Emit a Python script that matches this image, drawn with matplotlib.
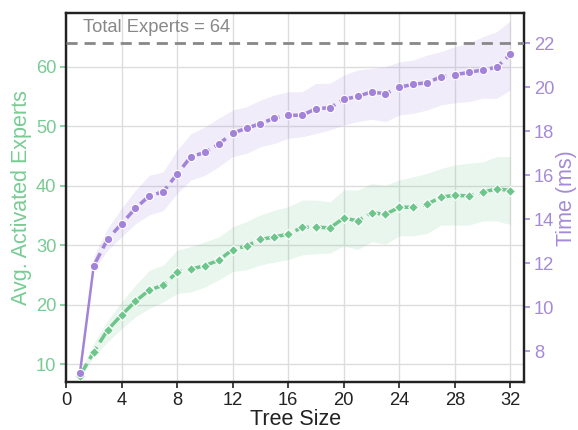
import matplotlib
matplotlib.use("Agg")
import matplotlib.pyplot as plt
import matplotlib.transforms as mtransforms
import numpy as np

plt.rcParams['font.family'] = ['Liberation Sans', 'DejaVu Sans']

# ---- data ----
tree_size = list(range(1, 33))

experts_mean = [8.1, 12.1, 15.8, 18.3, 20.6, 22.5, 23.3, 25.5, 26.0, 26.6,
                27.5, 29.3, 29.9, 31.0, 31.4, 31.9, 33.0, 33.1, 32.9, 34.6,
                34.1, 35.5, 35.2, 36.4, 36.4, 36.9, 38.1, 38.4, 38.3, 38.9,
                39.5, 39.2]
experts_low = [7.7, 11.3, 13.8, 16.0, 18.0, 19.4, 20.5, 21.9, 22.2, 23.0,
               24.2, 25.6, 25.9, 26.7, 27.2, 27.6, 28.4, 28.6, 28.7, 29.9,
               29.3, 30.6, 30.2, 31.6, 31.6, 32.0, 33.4, 33.4, 33.4, 34.1,
               34.1, 33.5]
experts_high = [8.5, 13.5, 17.4, 20.5, 23.3, 25.8, 26.7, 29.2, 29.8, 30.6,
                31.4, 33.1, 34.0, 35.1, 35.9, 36.5, 37.6, 37.6, 37.3, 39.3,
                39.3, 40.4, 40.1, 41.0, 41.5, 42.1, 42.9, 43.5, 43.8, 44.0,
                44.9, 44.9]

time_mean = [7.0, 11.9, 13.1, 13.8, 14.5, 15.07, 15.25, 16.06, 16.85, 17.04,
             17.42, 17.92, 18.14, 18.35, 18.60, 18.73, 18.73, 19.03, 19.07, 19.45,
             19.59, 19.79, 19.71, 20.0, 20.14, 20.21, 20.48, 20.57, 20.68, 20.79,
             20.91, 21.50]
time_low = [6.9, 11.7, 12.6, 13.2, 13.8, 14.2, 14.4, 15.18, 15.79, 16.0,
            16.39, 16.85, 17.0, 17.3, 17.45, 17.68, 17.75, 17.9, 18.06, 18.29,
            18.44, 18.55, 18.44, 18.74, 18.82, 18.97, 19.2, 19.3, 19.35, 19.5,
            19.5, 19.88]
time_high = [7.1, 12.3, 13.6, 14.5, 15.33, 16.0, 16.16, 17.15, 17.9, 18.2,
             18.6, 18.97, 19.12, 19.42, 19.65, 19.8, 19.8, 20.18, 20.18, 20.56,
             20.79, 20.86, 20.94, 21.16, 21.24, 21.47, 21.62, 21.85, 22.0, 22.3,
             22.53, 23.03]

total_experts = 64
x_ticks = list(range(0, 33, 4))
left_ticks = [10, 20, 30, 40, 50, 60]
right_ticks = [8, 10, 12, 14, 16, 18, 20, 22]

green = '#6cc68a'
green_txt = '#78cc93'
purple = '#a283d9'
purple_txt = '#a58ad9'
spine_c = '#222222'

fig = plt.figure(figsize=(5.78, 4.30), dpi=100)
ax = fig.add_axes([0.1142, 0.1109, 0.9071 - 0.1142, 0.9698 - 0.1109])
ax2 = ax.twinx()

# green series
ax.fill_between(tree_size, experts_low, experts_high, color=green, alpha=0.15, lw=0)
ax.plot(tree_size, experts_mean, color=green, lw=2.5, ls=(0, (4, 1.6)), marker='D',
        markersize=5.5, markeredgecolor='white', markeredgewidth=0.8, zorder=3)

# purple series
ax2.fill_between(tree_size, time_low, time_high, color=purple, alpha=0.15, lw=0)
ax2.plot(tree_size[:2], time_mean[:2], color=purple, lw=1.8, ls='-', zorder=3)
ax2.plot(tree_size[1:], time_mean[1:], color=purple, lw=2.5, ls=(0, (4, 1.6)), zorder=3)
ax2.plot(tree_size, time_mean, color=purple, lw=0, marker='o',
         markersize=6, markeredgecolor='white', markeredgewidth=0.8, zorder=4)

# total experts line (drawn on top layer, in left-axis data coords)
trans = mtransforms.blended_transform_factory(ax2.transAxes, ax.transData)
ax2.plot([0, 1], [total_experts, total_experts], transform=trans, color='#888888',
         lw=2, ls=(0, (4, 2.5)), zorder=5)
ax.text(1.2, 66.6, f'Total Experts = {total_experts}', color='#888888',
        fontsize=13.2, va='center', ha='left')

ax.set_xlim(0, 33)
ax.set_ylim(7, 69.02)
ax2.set_ylim(6.59, 23.38)

ax.set_xticks(x_ticks)
ax.set_yticks(left_ticks)
ax2.set_yticks(right_ticks)

ax.grid(True, color='#dddddd', lw=1)
ax.set_axisbelow(True)

ax.set_xlabel('Tree Size', fontsize=15.5, color='#222222', labelpad=0)
ax.set_ylabel('Avg. Activated Experts', fontsize=15.5, color=green_txt, labelpad=3)
ax2.set_ylabel('Time (ms)', fontsize=15.5, color=purple_txt, labelpad=1.5)

ax.tick_params(axis='x', labelsize=13.2, colors='#222222', length=4, width=1.2, pad=3)
ax.tick_params(axis='y', labelsize=13.2, colors=green_txt, length=4, width=1.2, pad=3)
ax2.tick_params(axis='y', labelsize=13.2, colors=purple_txt, length=4, width=1.2, pad=3)

for a in (ax, ax2):
    for s in a.spines.values():
        s.set_color(spine_c)
        s.set_linewidth(1.6)

fig.savefig('out.png', dpi=100)
